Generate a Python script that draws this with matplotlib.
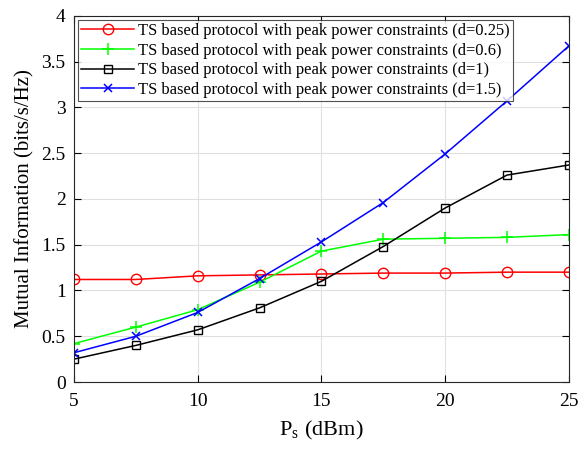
import numpy as np
import matplotlib
matplotlib.use("Agg")
import matplotlib.pyplot as plt

# Ps (dBm)
ps = [5, 7.5, 10, 12.5, 15, 17.5, 20, 22.5, 25]

# Mutual information (bits/s/Hz)
mi_d025 = [1.12, 1.12, 1.16, 1.17, 1.18, 1.19, 1.19, 1.20, 1.20]
mi_d06 = [0.42, 0.60, 0.79, 1.09, 1.43, 1.56, 1.57, 1.58, 1.61]
mi_d1 = [0.25, 0.40, 0.57, 0.81, 1.10, 1.48, 1.90, 2.26, 2.37]
mi_d15 = [0.32, 0.50, 0.76, 1.13, 1.53, 1.96, 2.49, 3.07, 3.67]

labels = [
    "TS based protocol with peak power constraints (d=0.25)",
    "TS based protocol with peak power constraints (d=0.6)",
    "TS based protocol with peak power constraints (d=1)",
    "TS based protocol with peak power constraints (d=1.5)",
]

plt.rcParams["font.family"] = ["Liberation Serif", "DejaVu Serif"]
plt.rcParams["mathtext.fontset"] = "stix"

fig = plt.figure(figsize=(5.87, 4.5), dpi=100)
ax = fig.add_axes([0.126, 0.151, 0.843, 0.814])

ax.plot(ps, mi_d025, color="red", marker="o", markersize=7.5, markerfacecolor="none",
        linewidth=1.1, label=labels[0])
ax.plot(ps, mi_d06, color="#00ff00", marker="+", markersize=8, markeredgewidth=1.1,
        linewidth=1.1, label=labels[1])
ax.plot(ps, mi_d1, color="black", marker="s", markersize=5.5, markerfacecolor="none",
        linewidth=1.1, label=labels[2])
ax.plot(ps, mi_d15, color="blue", marker="x", markersize=6, markeredgewidth=1.1,
        linewidth=1.1, label=labels[3])

ax.set_xlim(5, 25)
ax.set_ylim(0, 4)
ax.set_xticks([5, 10, 15, 20, 25])
ax.set_yticks(np.arange(0, 4.01, 0.5))
ax.set_yticklabels(["0", "0.5", "1", "1.5", "2", "2.5", "3", "3.5", "4"])
ax.tick_params(direction="in", top=True, right=True, labelsize=14, length=5)
ax.tick_params(axis="x", pad=8)
ax.tick_params(axis="y", pad=6)
ax.grid(True, color="#e0e0e0", linewidth=0.8)
ax.set_axisbelow(True)
for s in ax.spines.values():
    s.set_color("#262626")

ax.set_xlabel(r"P$_\mathregular{s}$ (dBm)", fontsize=16, labelpad=6)
ax.set_ylabel("Mutual Information (bits/s/Hz)", fontsize=15, labelpad=5)

leg = ax.legend(loc="upper left", fontsize=11.9, frameon=True, fancybox=False,
                edgecolor="#262626", borderpad=0.2, labelspacing=0.22,
                handlelength=3.2, handletextpad=0.2, borderaxespad=0.25)
leg.get_frame().set_linewidth(0.8)

fig.savefig("out.png", dpi=100)
